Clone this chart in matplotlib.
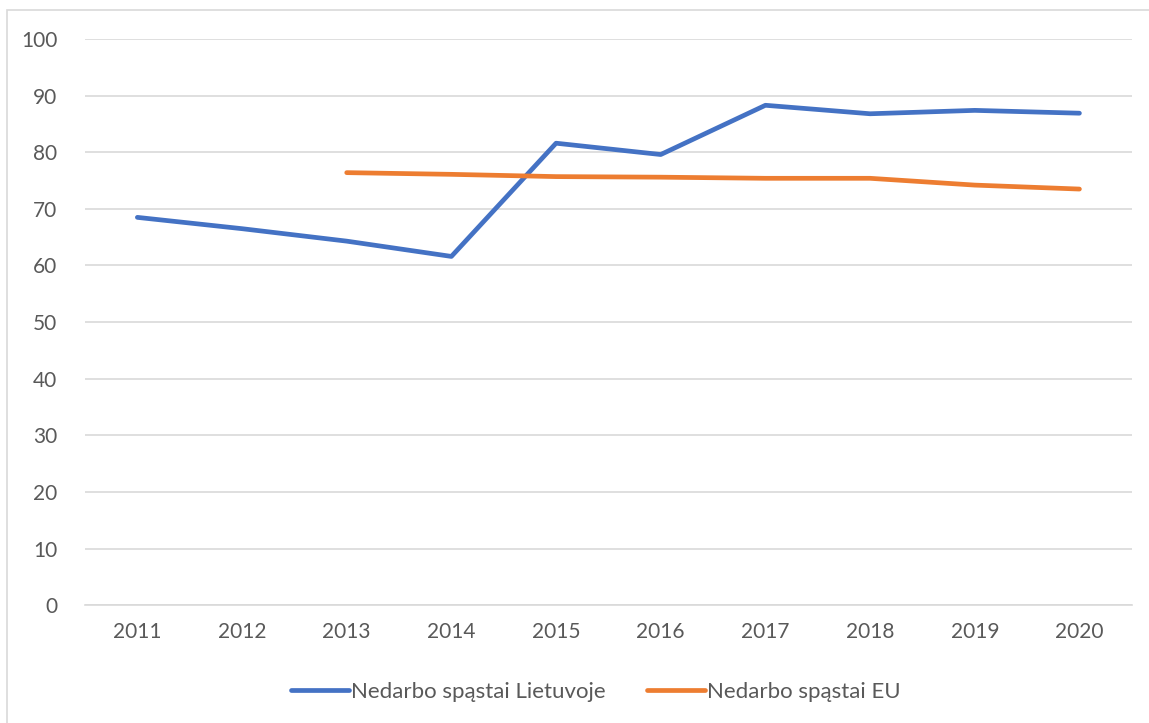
import matplotlib.pyplot as plt
from matplotlib.patches import Rectangle

years = ["2011", "2012", "2013", "2014", "2015", "2016", "2017", "2018", "2019", "2020"]
lithuania = [68.5, 66.5, 64.3, 61.6, 81.6, 79.6, 88.3, 86.8, 87.4, 86.9]
eu_years = ["2013", "2014", "2015", "2016", "2017", "2018", "2019", "2020"]
eu = [76.4, 76.1, 75.7, 75.6, 75.4, 75.4, 74.2, 73.5]

plt.rcParams["font.family"] = ["Lato", "DejaVu Sans"]

fig = plt.figure(figsize=(11.49, 7.23), dpi=100)
ax = fig.add_axes([0.074, 0.163, 0.911, 0.783])

# chart border
fig.patches.append(Rectangle((7 / 1149, -0.1), 1.2, 1 - 10 / 723 + 0.1,
                             transform=fig.transFigure, fill=False,
                             edgecolor="#d9d9d9", linewidth=1.2))

x_all = list(range(len(years)))
x_eu = [years.index(y) for y in eu_years]

ax.plot(x_all, lithuania, color="#4472C4", lw=3.4, solid_capstyle="round",
        label="Nedarbo spąstai Lietuvoje")
ax.plot(x_eu, eu, color="#ED7D31", lw=3.4, solid_capstyle="round",
        label="Nedarbo spąstai EU")

ax.set_xlim(-0.5, len(years) - 0.5)
ax.set_ylim(0, 100)
ax.set_yticks(range(0, 101, 10))
ax.set_xticks(x_all)
ax.set_xticklabels(years)
ax.grid(axis="y", color="#d9d9d9", lw=1.2)
ax.set_axisbelow(True)
for s in ["top", "right", "left"]:
    ax.spines[s].set_visible(False)
ax.spines["bottom"].set_color("#d9d9d9")
ax.spines["bottom"].set_linewidth(1.2)
ax.tick_params(length=0, labelsize=15, labelcolor="#595959")
ax.tick_params(axis="y", pad=20)
ax.tick_params(axis="x", pad=12)

ax.legend(loc="upper center", bbox_to_anchor=(0.488, -0.1), ncol=2, frameon=False,
          fontsize=16, labelcolor="#595959", handlelength=2.6, handletextpad=0.1,
          columnspacing=1.85)

fig.savefig("out.png", dpi=100)
